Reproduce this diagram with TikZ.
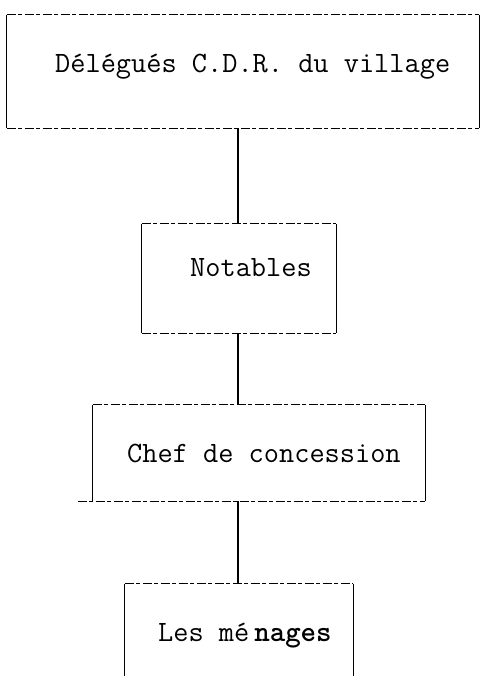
\documentclass[tikz,border=0pt]{standalone}
\usepackage{fontspec}
\begin{document}
\begin{tikzpicture}[x=1pt,y=1pt,
  box/.style={rectangle,inner sep=0pt,draw=none},
  hline/.style={line width=1.2pt,dash pattern=on 9pt off 2.5pt on 4pt off 2.5pt},
  vline/.style={line width=1.3pt},
  conn/.style={line width=1.3pt},
  lbl/.style={anchor=west,inner sep=0pt,font=\ttfamily\fontsize{29.5}{32}\selectfont}]
\useasboundingbox (0,0) rectangle (481,-676);
\fill[white] (0,0) rectangle (481,-676);
\coordinate (cx) at (238,0);
% boxes
\node[box,minimum width=472pt,minimum height=113pt] (b1) at (243,-71.5) {};
\node[box,minimum width=194pt,minimum height=109pt] (b2) at (239,-278.5) {};
\node[box,minimum width=332pt,minimum height=96pt] (b3) at (259,-453) {};
\node[box,minimum width=228pt,minimum height=116pt] (b4) at (239,-642) {};
% box edges
\foreach \b in {b1,b2,b3,b4}{
  \draw[hline] (\b.north west) -- (\b.north east);
  \draw[vline] (\b.north west) -- (\b.south west);
  \draw[vline] (\b.north east) -- (\b.south east);
}
\foreach \b in {b1,b2}{
  \draw[hline] (\b.south west) -- (\b.south east);
}
\draw[hline] ([xshift=-15pt]b3.south west) -- (b3.south east);
% texts
\node[lbl] (t1) at (55,-67) {Délégués C.D.R. du village};
\node[lbl] (t2) at (190,-268) {Notables};
\node[lbl] (t3) at (127,-453) {Chef de concession};
\node[lbl] (t4) at (158,-636) {Les mé\,\textbf{nages}};
% connectors
\draw[conn] (b1.south -| cx) -- (b2.north -| cx);
\draw[conn] (b2.south -| cx) -- (b3.north -| cx);
\draw[conn] (b3.south -| cx) -- (b4.north -| cx);
\end{tikzpicture}
\end{document}
